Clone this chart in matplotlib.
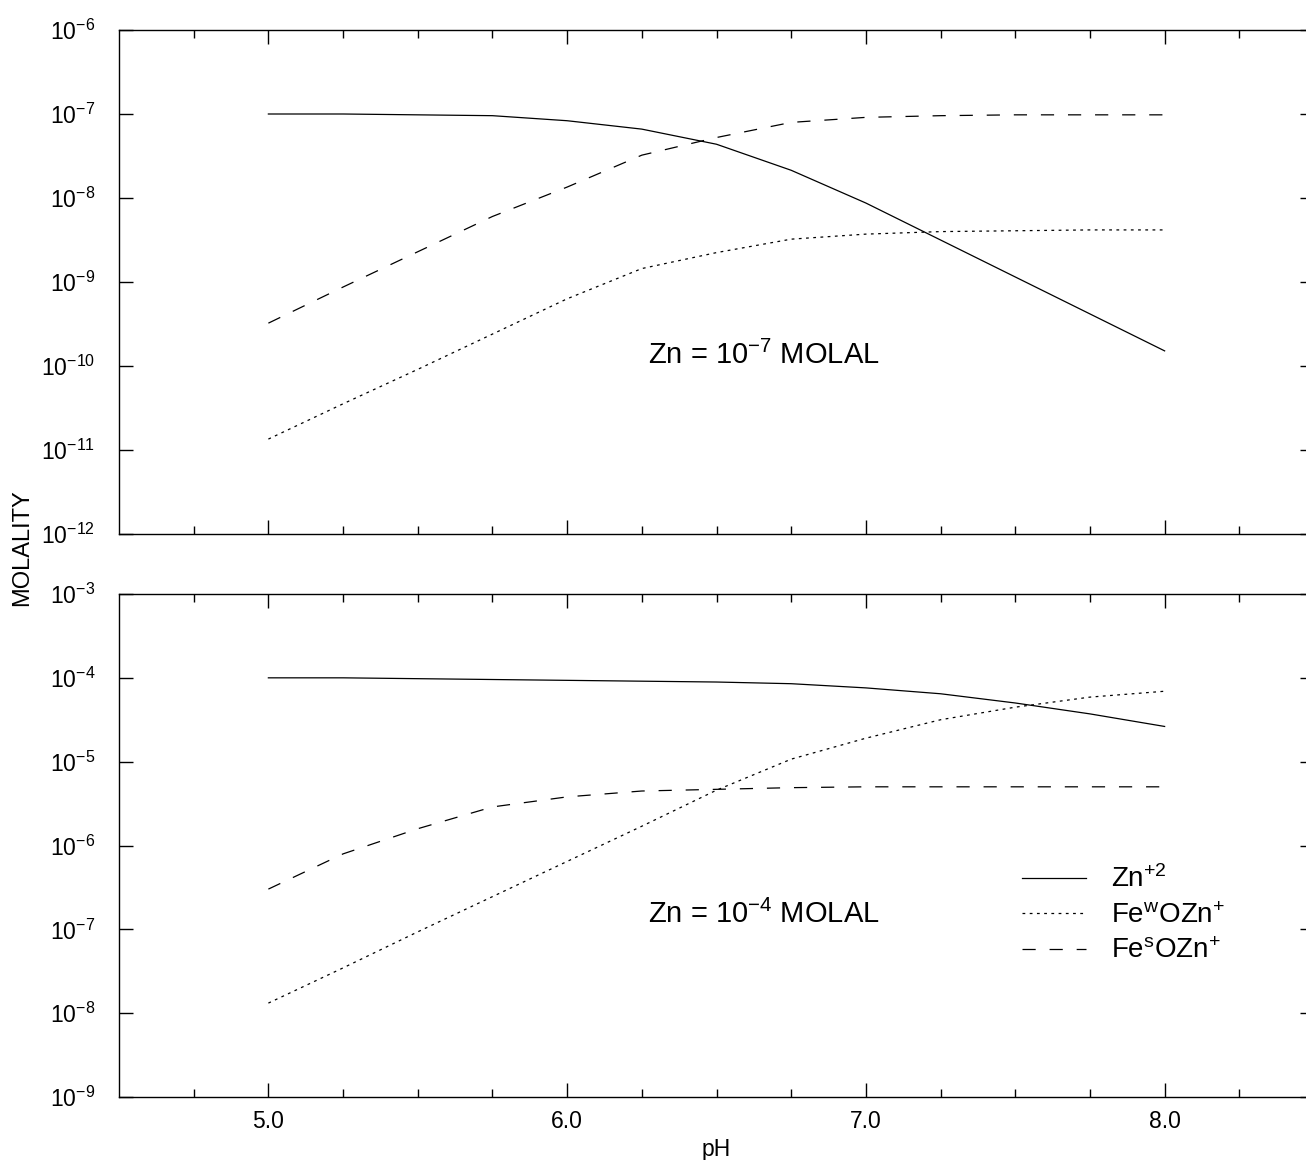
import numpy as np
import matplotlib
matplotlib.use('Agg')
import matplotlib.pyplot as plt
from matplotlib.ticker import FixedLocator, NullLocator, FuncFormatter

plt.rcParams['font.family'] = ['Liberation Sans', 'DejaVu Sans']
plt.rcParams['mathtext.fontset'] = 'custom'
plt.rcParams['mathtext.rm'] = 'Liberation Sans'
plt.rcParams['mathtext.it'] = 'Liberation Sans:italic'
plt.rcParams['mathtext.bf'] = 'Liberation Sans:bold'
plt.rcParams['lines.scale_dashes'] = False

# pH grid and log10 molalities
ph = [5.0, 5.25, 5.5, 5.75, 6.0, 6.25, 6.5, 6.75, 7.0, 7.25, 7.5, 7.75, 8.0]

# Zn = 1e-7 molal
zn_top = [-7.0, -7.0, -7.01, -7.02, -7.08, -7.18, -7.36, -7.67, -8.06, -8.5, -8.94, -9.38, -9.82]
few_top = [-10.87, -10.45, -10.04, -9.62, -9.2, -8.84, -8.65, -8.49, -8.43, -8.40, -8.39, -8.38, -8.38]
fes_top = [-9.49, -9.06, -8.64, -8.22, -7.87, -7.49, -7.28, -7.10, -7.04, -7.02, -7.01, -7.01, -7.01]

# Zn = 1e-4 molal
zn_bot = [-4.0, -4.0, -4.01, -4.02, -4.03, -4.04, -4.05, -4.07, -4.12, -4.19, -4.30, -4.43, -4.58]
few_bot = [-7.88, -7.46, -7.03, -6.61, -6.19, -5.77, -5.34, -4.97, -4.72, -4.50, -4.35, -4.23, -4.16]
fes_bot = [-6.52, -6.10, -5.80, -5.54, -5.42, -5.35, -5.33, -5.31, -5.30, -5.30, -5.30, -5.30, -5.30]

labels = [r'Zn$^{+2}$', r'Fe$^{\mathrm{w}}$OZn$^{+}$', r'Fe$^{\mathrm{s}}$OZn$^{+}$']
styles = ['-', (0, (2.0, 3.2)), (0, (9.5, 10.0))]

W, H = 1306, 1160
fig = plt.figure(figsize=(W / 100, H / 100), dpi=100)
left = 119 / W
width = (1314 - 119) / W
ax1 = fig.add_axes([left, 1 - 534 / H, width, 504 / H])
ax2 = fig.add_axes([left, 1 - 1097 / H, width, 503 / H])


def exp_fmt(v, pos):
    return r'10$^{%d}$' % int(round(np.log10(v)))


def setup(ax, lo, hi):
    ax.set_yscale('log')
    ax.set_ylim(10.0 ** lo, 10.0 ** hi)
    ax.set_xlim(4.5, 8.5)
    ax.yaxis.set_major_locator(FixedLocator([10.0 ** e for e in range(lo, hi + 1)]))
    ax.yaxis.set_minor_locator(NullLocator())
    ax.yaxis.set_major_formatter(FuncFormatter(exp_fmt))
    ax.xaxis.set_major_locator(FixedLocator([5, 6, 7, 8]))
    ax.xaxis.set_minor_locator(FixedLocator(np.arange(4.75, 8.5, 0.25)))
    ax.xaxis.set_major_formatter(FuncFormatter(lambda v, p: '%.1f' % v))
    ax.tick_params(which='both', direction='in', top=True, right=True, width=1.0)
    ax.tick_params(which='major', length=10, labelsize=16.5)
    ax.tick_params(axis='y', which='major', pad=17)
    ax.tick_params(axis='x', which='major', pad=9)
    ax.tick_params(which='minor', length=5.5)
    for s in ax.spines.values():
        s.set_linewidth(1.0)


setup(ax1, -12, -6)
setup(ax2, -9, -3)
ax1.tick_params(axis='x', labelbottom=False)

for ax, series in ((ax1, (zn_top, few_top, fes_top)), (ax2, (zn_bot, few_bot, fes_bot))):
    for vals, ls, lab in zip(series, styles, labels):
        ax.plot(ph, 10.0 ** np.array(vals), color='black', lw=0.9, linestyle=ls, label=lab)

ax1.text(6.27, 10.0 ** -9.87, r'Zn = 10$^{-7}$ MOLAL', fontsize=21, ha='left', va='center')
ax2.text(6.27, 10.0 ** -6.82, r'Zn = 10$^{-4}$ MOLAL', fontsize=21, ha='left', va='center')

ax2.legend(loc='center left', bbox_to_anchor=(0.7556, 0.362), frameon=False, fontsize=20,
           handlelength=2.3, handletextpad=0.9, labelspacing=0.34, borderpad=0,
           borderaxespad=0)

ax2.set_xlabel('pH', fontsize=16.5, labelpad=4)
fig.text(22 / W, 1 - 548 / H, 'MOLALITY', rotation=90, fontsize=17, ha='center', va='center')

fig.savefig('out.png', dpi=100)
